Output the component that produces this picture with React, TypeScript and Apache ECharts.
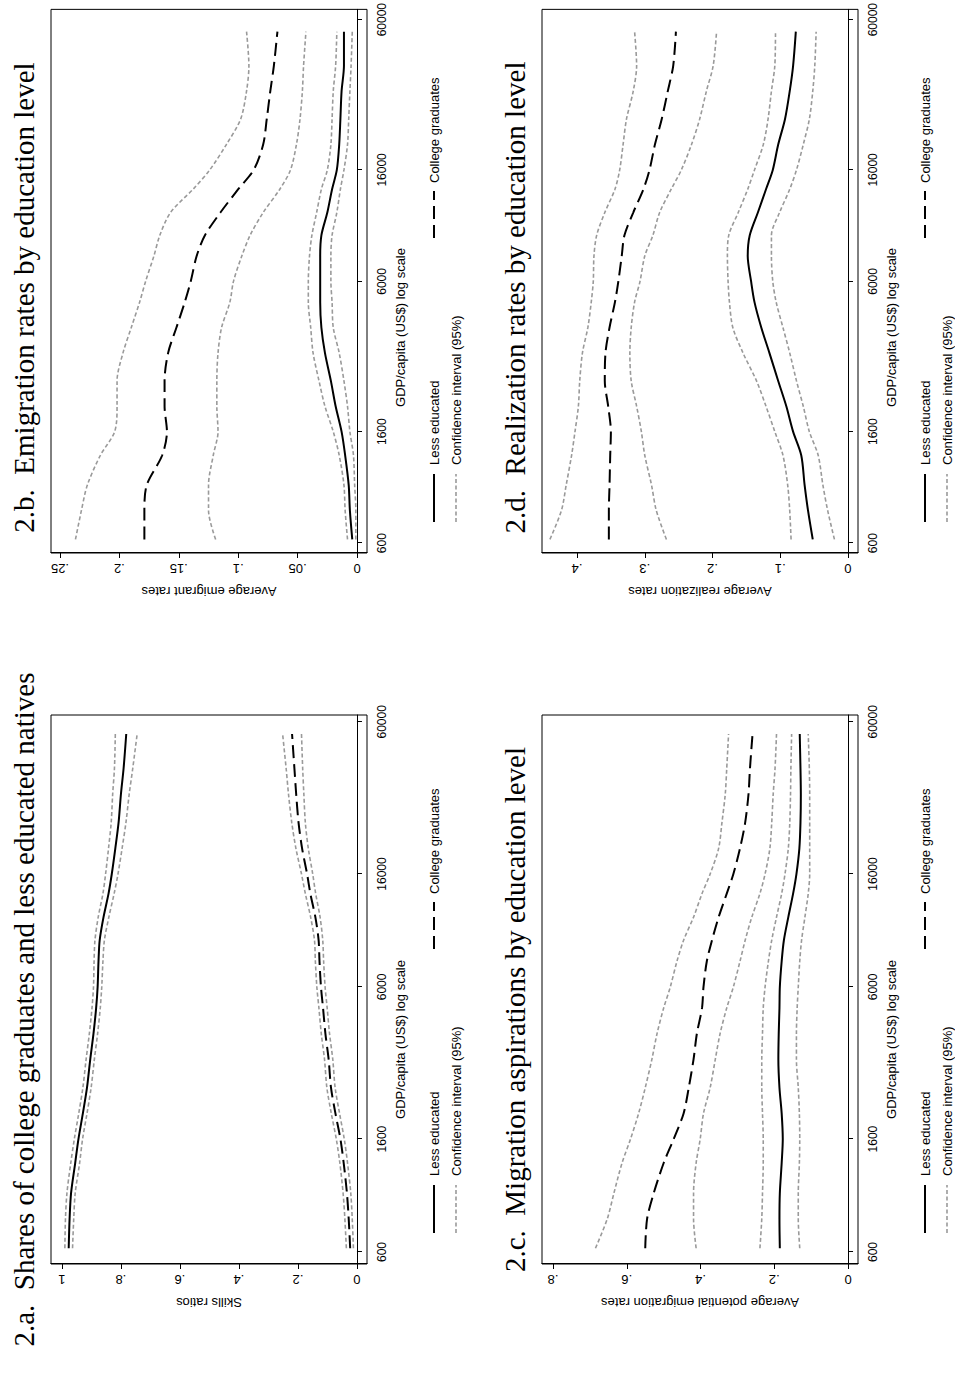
import React, { useEffect, useRef } from "react";
import * as echarts from "echarts";

// GDP per capita (US$) at which the smoothed curves were read
const gdp = [620, 800, 1000, 1300, 1600, 2000, 2500, 3200, 4000, 5000, 6000, 7500, 9000, 11000, 13500, 16000, 20000, 25000, 32000, 40000, 54000];
const gdpTicks = [600, 1600, 6000, 16000, 60000];

// 2.a Skills ratios
const aLess = [0.977, 0.974, 0.969, 0.955, 0.944, 0.929, 0.915, 0.904, 0.893, 0.884, 0.879, 0.876, 0.872, 0.859, 0.842, 0.831, 0.819, 0.808, 0.8, 0.791, 0.782];
const aLessHi = [0.99, 0.988, 0.983, 0.97, 0.958, 0.943, 0.929, 0.918, 0.907, 0.898, 0.893, 0.891, 0.888, 0.877, 0.861, 0.852, 0.842, 0.833, 0.828, 0.822, 0.819];
const aLessLo = [0.964, 0.96, 0.955, 0.94, 0.93, 0.915, 0.901, 0.89, 0.879, 0.87, 0.865, 0.861, 0.856, 0.841, 0.823, 0.81, 0.796, 0.783, 0.772, 0.76, 0.745];
const aCol = [0.023, 0.028, 0.034, 0.045, 0.056, 0.073, 0.088, 0.096, 0.107, 0.115, 0.122, 0.127, 0.13, 0.141, 0.158, 0.169, 0.186, 0.198, 0.206, 0.212, 0.22];
const aColHi = [0.036, 0.041, 0.047, 0.058, 0.07, 0.087, 0.102, 0.11, 0.121, 0.129, 0.136, 0.141, 0.144, 0.157, 0.175, 0.188, 0.207, 0.221, 0.232, 0.24, 0.252];
const aColLo = [0.012, 0.016, 0.021, 0.032, 0.043, 0.059, 0.074, 0.082, 0.093, 0.101, 0.108, 0.113, 0.116, 0.125, 0.14, 0.15, 0.165, 0.175, 0.18, 0.184, 0.188];

// 2.b Average emigrant rates
const bLess = [0.004, 0.006, 0.007, 0.01, 0.013, 0.018, 0.022, 0.027, 0.03, 0.031, 0.031, 0.031, 0.03, 0.025, 0.021, 0.017, 0.015, 0.014, 0.013, 0.011, 0.011];
const bLessHi = [0.008, 0.01, 0.011, 0.015, 0.02, 0.027, 0.032, 0.037, 0.039, 0.041, 0.041, 0.04, 0.038, 0.034, 0.03, 0.025, 0.022, 0.021, 0.02, 0.018, 0.017];
const bLessLo = [0.001, 0.001, 0.002, 0.003, 0.006, 0.008, 0.011, 0.015, 0.02, 0.021, 0.022, 0.022, 0.021, 0.017, 0.014, 0.011, 0.008, 0.007, 0.006, 0.005, 0.004];
const bCol = [0.179, 0.179, 0.177, 0.164, 0.16, 0.162, 0.162, 0.159, 0.152, 0.145, 0.14, 0.135, 0.128, 0.115, 0.1, 0.087, 0.079, 0.076, 0.073, 0.07, 0.067];
const bColHi = [0.237, 0.232, 0.227, 0.216, 0.204, 0.202, 0.202, 0.197, 0.19, 0.183, 0.178, 0.171, 0.166, 0.157, 0.138, 0.124, 0.11, 0.098, 0.093, 0.091, 0.093];
const bColLo = [0.119, 0.125, 0.125, 0.121, 0.117, 0.118, 0.118, 0.117, 0.114, 0.107, 0.104, 0.097, 0.09, 0.079, 0.065, 0.056, 0.051, 0.048, 0.046, 0.045, 0.043];

// 2.c Average potential emigration rates
const cLess = [0.185, 0.186, 0.185, 0.18, 0.177, 0.18, 0.186, 0.189, 0.188, 0.186, 0.185, 0.18, 0.174, 0.162, 0.149, 0.14, 0.132, 0.129, 0.128, 0.129, 0.131];
const cLessHi = [0.239, 0.234, 0.232, 0.23, 0.23, 0.232, 0.234, 0.234, 0.232, 0.23, 0.225, 0.216, 0.207, 0.194, 0.18, 0.171, 0.162, 0.158, 0.156, 0.155, 0.153];
const cLessLo = [0.131, 0.135, 0.135, 0.132, 0.131, 0.132, 0.135, 0.14, 0.14, 0.138, 0.135, 0.131, 0.126, 0.117, 0.108, 0.104, 0.104, 0.104, 0.104, 0.105, 0.108];
const cCol = [0.55, 0.545, 0.527, 0.5, 0.473, 0.446, 0.432, 0.419, 0.41, 0.396, 0.392, 0.383, 0.369, 0.351, 0.329, 0.311, 0.293, 0.279, 0.27, 0.266, 0.259];
const cColHi = [0.685, 0.653, 0.635, 0.613, 0.59, 0.568, 0.55, 0.532, 0.518, 0.5, 0.482, 0.464, 0.446, 0.419, 0.396, 0.374, 0.351, 0.342, 0.333, 0.329, 0.324];
const cColLo = [0.412, 0.419, 0.419, 0.412, 0.401, 0.392, 0.374, 0.36, 0.347, 0.329, 0.311, 0.293, 0.279, 0.261, 0.239, 0.225, 0.212, 0.207, 0.203, 0.198, 0.194];

// 2.d Average realization rates
const dLess = [0.052, 0.059, 0.064, 0.069, 0.081, 0.091, 0.103, 0.116, 0.128, 0.138, 0.143, 0.148, 0.145, 0.133, 0.121, 0.111, 0.103, 0.093, 0.086, 0.081, 0.077];
const dLessHi = [0.084, 0.086, 0.089, 0.096, 0.108, 0.121, 0.135, 0.155, 0.17, 0.175, 0.177, 0.178, 0.176, 0.162, 0.148, 0.138, 0.125, 0.118, 0.113, 0.108, 0.107];
const dLessLo = [0.02, 0.03, 0.037, 0.044, 0.057, 0.066, 0.076, 0.086, 0.096, 0.106, 0.111, 0.113, 0.113, 0.101, 0.086, 0.076, 0.066, 0.057, 0.052, 0.049, 0.047];
const dCol = [0.353, 0.353, 0.352, 0.351, 0.35, 0.354, 0.359, 0.358, 0.352, 0.344, 0.339, 0.334, 0.33, 0.317, 0.302, 0.293, 0.285, 0.275, 0.266, 0.258, 0.254];
const dColHi = [0.44, 0.423, 0.416, 0.408, 0.403, 0.398, 0.396, 0.392, 0.384, 0.379, 0.376, 0.375, 0.371, 0.359, 0.344, 0.337, 0.332, 0.327, 0.317, 0.312, 0.315];
const dColLo = [0.268, 0.283, 0.29, 0.3, 0.305, 0.312, 0.32, 0.322, 0.32, 0.315, 0.307, 0.3, 0.288, 0.278, 0.261, 0.246, 0.231, 0.219, 0.209, 0.199, 0.194];

const aTicks = [0, 0.2, 0.4, 0.6, 0.8, 1];
const bTicks = [0, 0.05, 0.1, 0.15, 0.2, 0.25];
const cTicks = [0, 0.2, 0.4, 0.6, 0.8];
const dTicks = [0, 0.1, 0.2, 0.3, 0.4];

const SANS = "Liberation Sans, Arial, sans-serif";
const SERIF = "Liberation Serif, Times New Roman, serif";
const GREY = "#9a9a9a";

type Panel = {
  caption: string;
  yName: string;
  left: number;
  width: number;
  top: number;
  xMin: number;
  xMax: number;
  yMin: number;
  yMax: number;
  yTicks: number[];
  less: number[];
  lessHi: number[];
  lessLo: number[];
  col: number[];
  colHi: number[];
  colLo: number[];
};

const panels: Panel[] = [
  { caption: "2.a.  Shares of college graduates and less educated natives", yName: "Skills ratios", left: 120, width: 549, top: 51, xMin: 2.733, xMax: 4.804, yMin: -0.034, yMax: 1.037, yTicks: aTicks, less: aLess, lessHi: aLessHi, lessLo: aLessLo, col: aCol, colHi: aColHi, colLo: aColLo },
  { caption: "2.b.  Emigration rates by education level", yName: "Average emigrant rates", left: 831, width: 551, top: 51, xMin: 2.7405, xMax: 4.8176, yMin: -0.0084, yMax: 0.2576, yTicks: bTicks, less: bLess, lessHi: bLessHi, lessLo: bLessLo, col: bCol, colHi: bColHi, colLo: bColLo },
  { caption: "2.c.  Migration aspirations by education level", yName: "Average potential emigration rates", left: 120, width: 549, top: 542, xMin: 2.733, xMax: 4.804, yMin: -0.027, yMax: 0.83, yTicks: cTicks, less: cLess, lessHi: cLessHi, lessLo: cLessLo, col: cCol, colHi: cColHi, colLo: cColLo },
  { caption: "2.d.  Realization rates by education level", yName: "Average realization rates", left: 831, width: 551, top: 542, xMin: 2.7405, xMax: 4.8176, yMin: -0.0148, yMax: 0.4517, yTicks: dTicks, less: dLess, lessHi: dLessHi, lessLo: dLessLo, col: dCol, colHi: dColHi, colLo: dColLo },
];

const PLOT_H = 316;

function fmtShare(v: number) {
  if (v === 0) return "0";
  return String(v).replace(/^0/, "");
}

function buildOption() {
  const grid: any[] = [];
  const xAxis: any[] = [];
  const yAxis: any[] = [];
  const series: any[] = [];
  const graphic: any[] = [];
  const logTicks = gdpTicks.map((t) => Math.log10(t));
  const txt = { fontFamily: SANS, fontSize: 13, fill: "#000" };

  panels.forEach((p, i) => {
    grid.push({ left: p.left, top: p.top, width: p.width, height: PLOT_H, show: true, borderColor: "#000", borderWidth: 1, containLabel: false });
    xAxis.push({
      type: "value", gridIndex: i, min: p.xMin, max: p.xMax,
      axisLine: { show: true, lineStyle: { color: "#000" } },
      axisTick: { show: true, length: 5, customValues: logTicks, lineStyle: { color: "#000" } },
      axisLabel: { customValues: logTicks, formatter: (v: number) => String(Math.round(Math.pow(10, v) / 100) * 100), fontFamily: SANS, fontSize: 12, color: "#000", margin: 9 },
      splitLine: { show: false },
    });
    yAxis.push({
      type: "value", gridIndex: i, min: p.yMin, max: p.yMax,
      name: p.yName, nameLocation: "middle", nameGap: 32, nameRotate: 90,
      nameTextStyle: { fontFamily: SANS, fontSize: 13, color: "#000" },
      axisLine: { show: true, lineStyle: { color: "#000" } },
      axisTick: { show: true, length: 5, customValues: p.yTicks, lineStyle: { color: "#000" } },
      axisLabel: { customValues: p.yTicks, formatter: fmtShare, rotate: 90, fontFamily: SANS, fontSize: 13, color: "#000", margin: 9 },
      splitLine: { show: false },
    });
    const mk = (vals: number[], color: string, width: number, type: any, name: string) => ({
      type: "line", name, xAxisIndex: i, yAxisIndex: i, showSymbol: false, smooth: 0.3,
      data: gdp.map((g, k) => [Math.log10(g), vals[k]]),
      lineStyle: { color, width, type },
      z: color === GREY ? 2 : 3,
    });
    series.push(mk(p.lessHi, GREY, 1.6, [4, 2.5], "Confidence interval (95%)"));
    series.push(mk(p.lessLo, GREY, 1.6, [4, 2.5], "Confidence interval (95%)"));
    series.push(mk(p.colHi, GREY, 1.6, [4, 2.5], "Confidence interval (95%)"));
    series.push(mk(p.colLo, GREY, 1.6, [4, 2.5], "Confidence interval (95%)"));
    series.push(mk(p.less, "#000", 2, "solid", "Less educated"));
    series.push(mk(p.col, "#000", 2, [13, 6], "College graduates"));

    // caption above the panel
    graphic.push({ type: "text", x: p.left + p.width / 2 - 20, y: p.top - 42, style: { text: p.caption, fontFamily: SERIF, fontSize: 29, fill: "#000", align: "center", verticalAlign: "top" } });
    graphic.push({ type: "text", x: p.left + p.width / 2 - 50, y: p.top + PLOT_H + 33, style: { ...txt, text: "GDP/capita (US$) log scale", align: "center", verticalAlign: "middle" } });
    // legend
    const r1 = p.top + PLOT_H + 67;
    const r2 = r1 + 22;
    const L = p.left;
    graphic.push({ type: "line", shape: { x1: L + 31, y1: r1, x2: L + 79, y2: r1 }, style: { stroke: "#000", lineWidth: 2 } });
    graphic.push({ type: "text", x: L + 88, y: r1, style: { ...txt, text: "Less educated", verticalAlign: "middle" } });
    graphic.push({ type: "line", shape: { x1: L + 315, y1: r1, x2: L + 362, y2: r1 }, style: { stroke: "#000", lineWidth: 2, lineDash: [13, 6] } });
    graphic.push({ type: "text", x: L + 370, y: r1, style: { ...txt, text: "College graduates", verticalAlign: "middle" } });
    graphic.push({ type: "line", shape: { x1: L + 31, y1: r2, x2: L + 79, y2: r2 }, style: { stroke: GREY, lineWidth: 1.6, lineDash: [4, 2.5] } });
    graphic.push({ type: "text", x: L + 88, y: r2, style: { ...txt, text: "Confidence interval (95%)", verticalAlign: "middle" } });
  });

  return { animation: false, backgroundColor: "#fff", grid, xAxis, yAxis, series, graphic };
}

export default function App() {
  const ref = useRef<HTMLDivElement>(null);
  useEffect(() => {
    if (!ref.current) return;
    const chart = echarts.init(ref.current, undefined, { renderer: "svg" });
    chart.setOption(buildOption() as any);
    return () => chart.dispose();
  }, []);
  return (
    <div style={{ position: "fixed", left: 0, top: 0, width: 955, height: 1384, overflow: "hidden", background: "#fff" }}>
      <div
        ref={ref}
        style={{ position: "absolute", left: 0, top: 0, width: 1384, height: 955, transformOrigin: "0 0", transform: "translateY(1384px) rotate(-90deg)" }}
      />
    </div>
  );
}
